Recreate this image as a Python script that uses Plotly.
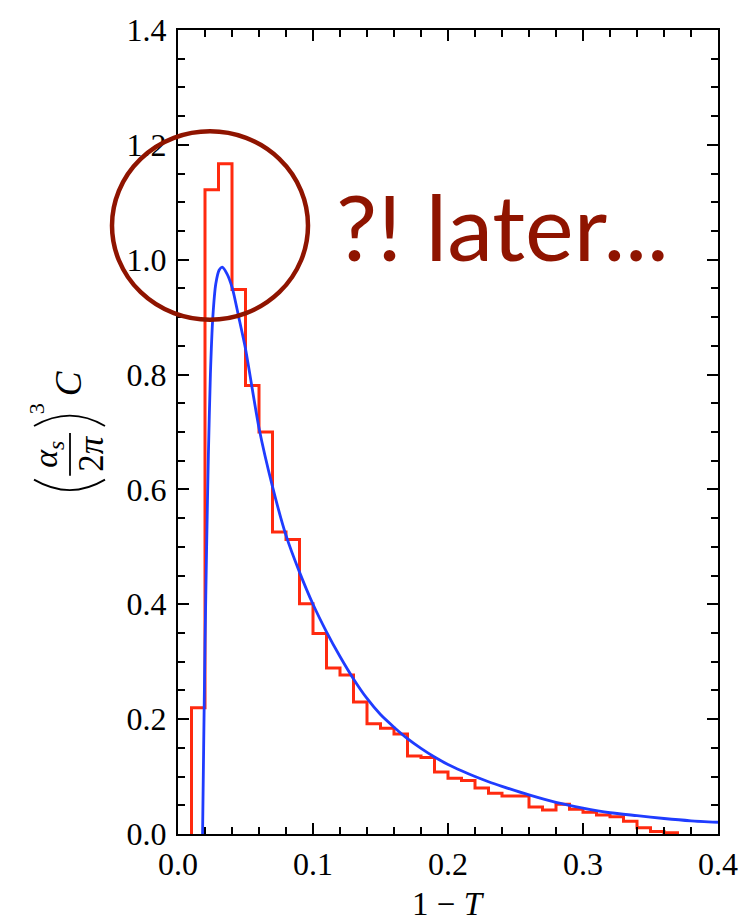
import plotly.graph_objects as go

# ---- data ----
bin_left = [0.01, 0.02, 0.03, 0.04, 0.05, 0.06, 0.07, 0.08, 0.09, 0.10,
            0.11, 0.12, 0.13, 0.14, 0.15, 0.16, 0.17, 0.18, 0.19, 0.20,
            0.21, 0.22, 0.23, 0.24, 0.25, 0.26, 0.27, 0.28, 0.29, 0.30,
            0.31, 0.32, 0.33, 0.34, 0.35, 0.36]
bin_width = 0.01
bin_vals = [0.220, 1.122, 1.167, 0.948, 0.781, 0.700, 0.526, 0.513, 0.401, 0.349,
            0.289, 0.277, 0.230, 0.192, 0.184, 0.174, 0.136, 0.133, 0.108, 0.097,
            0.093, 0.080, 0.071, 0.066, 0.066, 0.047, 0.042, 0.052, 0.043, 0.038,
            0.033, 0.030, 0.022, 0.011, 0.0045, 0.002]

curve_x = [0.0182, 0.0190, 0.0200, 0.0212, 0.0225, 0.0240, 0.0258, 0.0280, 0.0305,
           0.0327, 0.0364, 0.0403, 0.0450, 0.0500, 0.0600, 0.0700, 0.0800, 0.0900,
           0.1000, 0.1100, 0.1200, 0.1300, 0.1400, 0.1500, 0.1600, 0.1700, 0.1800,
           0.1900, 0.2000, 0.2100, 0.2200, 0.2300, 0.2400, 0.2600, 0.2800, 0.3000,
           0.3200, 0.3400, 0.3600, 0.3800, 0.4000]
curve_y = [0.000, 0.150, 0.330, 0.500, 0.660, 0.800, 0.900, 0.958, 0.982,
           0.987, 0.975, 0.950, 0.900, 0.845, 0.707, 0.605, 0.520, 0.456,
           0.400, 0.352, 0.309, 0.270, 0.236, 0.208, 0.186, 0.166, 0.149,
           0.134, 0.121, 0.110, 0.100, 0.091, 0.083, 0.068, 0.055, 0.045,
           0.037, 0.032, 0.027, 0.023, 0.0205]

x_ticks = [0.0, 0.1, 0.2, 0.3, 0.4]
x_tick_labels = ["0.0", "0.1", "0.2", "0.3", "0.4"]
y_ticks = [0.0, 0.2, 0.4, 0.6, 0.8, 1.0, 1.2, 1.4]
y_tick_labels = ["0.0", "0.2", "0.4", "0.6", "0.8", "1.0", "1.2", "1.4"]

# ---- layout geometry ----
W, H = 752, 923
ML, MR, MT, MB = 178, 34, 24, 89
PW, PH = W - ML - MR, H - MT - MB


def px(x):
    return (x - ML) / PW


def py(y):
    return (H - MB - y) / PH


RED = "#ff2a0f"
BLUE = "#1f3cff"
DARK = "#8f1400"
SERIF = "Liberation Serif, DejaVu Serif, serif"

# step trace from the bins
hx = [bin_left[0]] + bin_left + [bin_left[-1] + bin_width]
hy = [0] + bin_vals + [0]

fig = go.Figure()
fig.add_trace(go.Scatter(x=hx, y=hy, mode="lines", line=dict(color=RED, width=3, shape="hv"),
                         hoverinfo="skip", showlegend=False))
fig.add_trace(go.Scatter(x=curve_x, y=curve_y, mode="lines",
                         line=dict(color=BLUE, width=2.8, shape="spline", smoothing=0.6),
                         hoverinfo="skip", showlegend=False))

axis_common = dict(showline=True, linecolor="black", linewidth=2.2, mirror="allticks",
                   ticks="inside", ticklen=11, tickwidth=1.8, tickcolor="black",
                   showgrid=False, zeroline=False,
                   tickfont=dict(family=SERIF, size=32, color="black"))

fig.update_xaxes(range=[0, 0.4], tickvals=x_ticks, ticktext=x_tick_labels,
                 minor=dict(ticks="inside", dtick=0.02, ticklen=7, tickwidth=1.5, tickcolor="black", showgrid=False),
                 ticklabelstandoff=0, **axis_common)
fig.update_yaxes(range=[0, 1.4], tickvals=y_ticks, ticktext=y_tick_labels,
                 minor=dict(ticks="inside", dtick=0.05, ticklen=7, tickwidth=1.5, tickcolor="black", showgrid=False),
                 ticklabelstandoff=3, **axis_common)

annotations = [
    dict(text="?! later...", x=px(334), y=py(221), xanchor="left", yanchor="middle",
         font=dict(family="Lato, Open Sans, sans-serif", size=92, color=DARK)),
    dict(text="1 \u2212 <i>T</i>", x=px(448), y=py(905), xanchor="center", yanchor="middle",
         font=dict(family=SERIF, size=33, color="black")),
    # y-axis title pieces (rotated)
    dict(text="<i>C</i>", x=px(68), y=py(380), textangle=-90, xanchor="center", yanchor="middle",
         font=dict(family=SERIF, size=37, color="black")),
    dict(text="3", x=px(36), y=py(406), textangle=-90, xanchor="center", yanchor="middle",
         font=dict(family=SERIF, size=22, color="black")),
    dict(text="<i>\u03b1<sub>s</sub></i>", x=px(48), y=py(452), textangle=-90, xanchor="center", yanchor="middle",
         font=dict(family=SERIF, size=34, color="black")),
    dict(text="2<i>\u03c0</i>", x=px(92), y=py(451), textangle=-90, xanchor="center", yanchor="middle",
         font=dict(family=SERIF, size=35, color="black")),
]
for a in annotations:
    a.update(xref="paper", yref="paper", showarrow=False)

shapes = [
    # circle
    dict(type="circle", xref="paper", yref="paper",
         x0=px(112), x1=px(308), y0=py(316), y1=py(126),
         line=dict(color=DARK, width=4.5)),
    # fraction bar
    dict(type="line", xref="paper", yref="paper",
         x0=px(70), x1=px(70), y0=py(430), y1=py(473),
         line=dict(color="black", width=1.8)),
    # parentheses
    dict(type="path", xref="paper", yref="paper",
         path=f"M {px(34)},{py(477)} Q {px(70)},{py(498)} {px(105)},{py(477)}",
         line=dict(color="black", width=1.8)),
    dict(type="path", xref="paper", yref="paper",
         path=f"M {px(34)},{py(423)} Q {px(70)},{py(402)} {px(105)},{py(423)}",
         line=dict(color="black", width=1.8)),
]

fig.update_layout(width=W, height=H, margin=dict(l=ML, r=MR, t=MT, b=MB),
                  paper_bgcolor="white", plot_bgcolor="white",
                  annotations=annotations, shapes=shapes, showlegend=False)

fig.write_html("out.html")
